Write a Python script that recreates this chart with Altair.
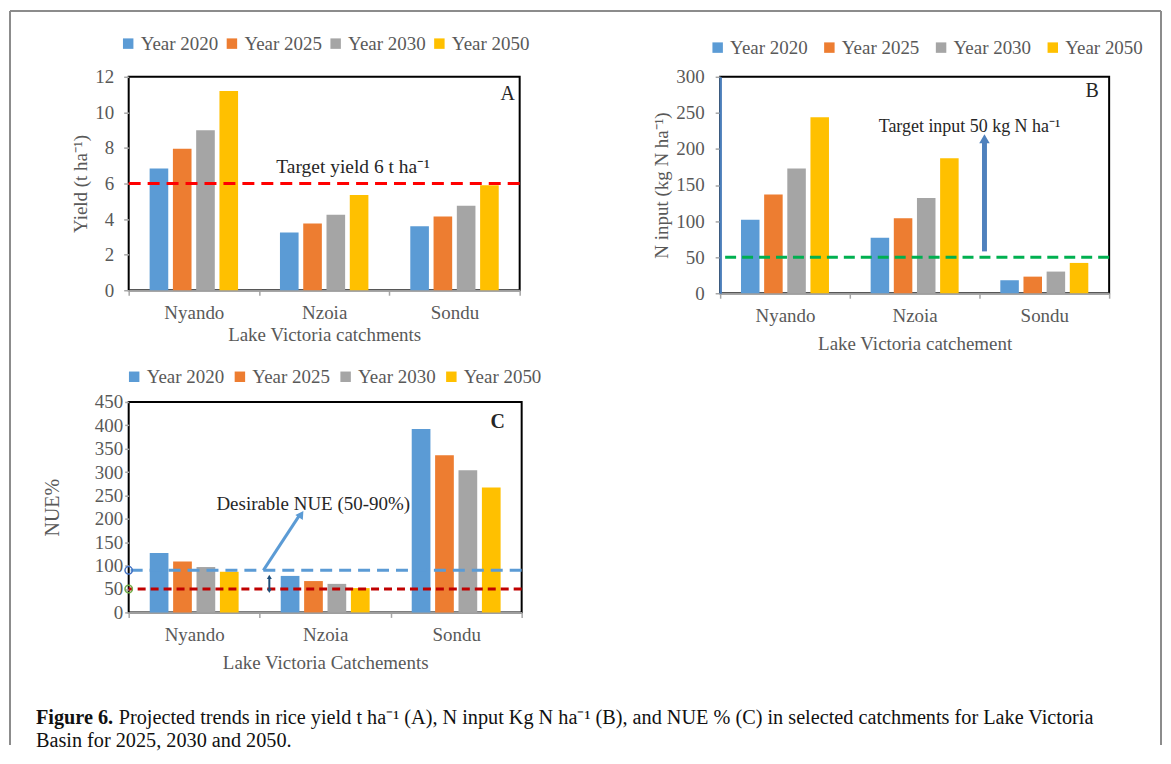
import altair as alt
import pandas as pd

# ---------------- data ----------------
catchments = ["Nyando", "Nzoia", "Sondu"]
years = ["Year 2020", "Year 2025", "Year 2030", "Year 2050"]
colors = ["#5b9bd5", "#ed7d31", "#a5a5a5", "#ffc000"]

yield_2020 = [6.85, 3.25, 3.60]
yield_2025 = [7.95, 3.75, 4.15]
yield_2030 = [9.00, 4.25, 4.75]
yield_2050 = [11.2, 5.35, 5.90]

ninput_2020 = [102, 77, 18]
ninput_2025 = [137, 104, 23]
ninput_2030 = [173, 132, 30]
ninput_2050 = [244, 187, 42]

nue_2020 = [127, 78, 392]
nue_2025 = [109, 67, 336]
nue_2030 = [97, 61, 304]
nue_2050 = [87, 52, 267]

target_yield = 6
target_input = 50
nue_low, nue_high = 50, 90

FONT = "Liberation Serif"
GREY = "#595959"


def long_df(series):
    rows = []
    for yr, vals in zip(years, series):
        for c, v in zip(catchments, vals):
            rows.append({"catchment": c, "year": yr, "value": v})
    return pd.DataFrame(rows)


def y_axis(ymax, ystep, ytitle, yt_size, ytick, ylabpad, ytitlepad,
           ydomain=False, ydomain_color="black"):
    return alt.Axis(title=ytitle, values=list(range(0, ymax + 1, ystep)),
                    labelOverlap=False, labelBound=False,
                    grid=False, tickSize=ytick, tickColor="#a6a6a6",
                    tickWidth=1.5, domain=ydomain,
                    domainColor=ydomain_color, domainWidth=2.5,
                    labelFont=FONT, labelFontSize=19, labelColor=GREY,
                    labelPadding=ylabpad, titleFont=FONT,
                    titleFontSize=yt_size, titleColor=GREY,
                    titleFontWeight="normal", titlePadding=ytitlepad)


def bars(df, ymax, yax, xtitle, legx, legy, colpad, xtitlepad=9):
    return alt.Chart(df).mark_bar().encode(
        x=alt.X("catchment:N", sort=catchments,
                scale=alt.Scale(paddingInner=0, paddingOuter=0),
                axis=alt.Axis(title=xtitle, labelAngle=0, tickBand="extent",
                              tickSize=5, tickColor="#a6a6a6", tickWidth=1.5,
                              domainColor="#9e9e9e", domainWidth=2,
                              labelFont=FONT, labelFontSize=19, labelColor=GREY,
                              labelPadding=8, titleFont=FONT, titleFontSize=19,
                              titleColor=GREY, titleFontWeight="normal",
                              titlePadding=xtitlepad)),
        xOffset=alt.XOffset("year:N", sort=years,
                            scale=alt.Scale(paddingInner=0.2, paddingOuter=0.9)),
        y=alt.Y("value:Q", scale=alt.Scale(domain=[0, ymax], nice=False), axis=yax),
        color=alt.Color("year:N", sort=years,
                        scale=alt.Scale(domain=years, range=colors),
                        legend=alt.Legend(title=None, orient="none",
                                          direction="horizontal",
                                          legendX=legx, legendY=legy,
                                          symbolType="square", symbolSize=110,
                                          symbolStrokeWidth=0,
                                          labelFont=FONT, labelFontSize=19,
                                          labelColor=GREY, labelOffset=3,
                                          columnPadding=colpad)),
    )


def text_at(txt, x, yval, yax, size=19, weight="normal", color="#262626"):
    return alt.Chart(pd.DataFrame({"t": [txt]})).mark_text(
        font=FONT, fontSize=size, fontWeight=weight, color=color,
        align="center", baseline="middle").encode(
        text="t:N", x=alt.value(x), y=alt.Y(datum=yval, axis=yax))


def hline(val, yax, color, dash, width=3):
    return alt.Chart(pd.DataFrame({"v": [val]})).mark_rule(
        color=color, strokeWidth=width, strokeDash=dash).encode(
        y=alt.Y("v:Q", axis=yax))


def one():
    return alt.Chart(pd.DataFrame({"k": [0]}))


# ---------------- panel A ----------------
WA, HA = 392, 214
axA = y_axis(12, 2, "Yield (t ha⁻¹)", 19, 5, 10, 4)
dfA = long_df([yield_2020, yield_2025, yield_2030, yield_2050])
barsA = bars(dfA, 12, axA, "Lake Victoria catchments", -10, -43, 4, xtitlepad=3)
lineA = hline(target_yield, axA, "#ff0000", [12, 7])
txtA = text_at("Target yield 6 t ha⁻¹", 225, 6.95, axA, size=19.5)
letA = text_at("A", 380, 11.05, axA, size=20)
frame_left = one().mark_rule(color="#8c8c8c", strokeWidth=2).encode(
    x=alt.value(-119), y=alt.value(-66), y2=alt.value(670))
frame_top = one().mark_rule(color="#8c8c8c", strokeWidth=2).encode(
    x=alt.value(-119), x2=alt.value(1035), y=alt.value(-66))
panelA = alt.layer(barsA, lineA, txtA, letA, frame_left, frame_top).properties(
    width=WA, height=HA)

# ---------------- panel B ----------------
WB, HB = 390, 217
axB = y_axis(300, 50, "N input (kg N ha⁻¹)", 19, 5, 11, 4,
             ydomain=True, ydomain_color="#4a7ebb")
dfB = long_df([ninput_2020, ninput_2025, ninput_2030, ninput_2050])
barsB = bars(dfB, 300, axB, "Lake Victoria catchement", -12, -39, 12)
lineB = hline(target_input, axB, "#00b050", [11, 6])
txtB = text_at("Target input 50 kg N ha⁻¹", 250, 231, axB, size=18)
letB = text_at("B", 373, 280, axB, size=20)
arrowB = one().mark_rule(color="#4f81bd", strokeWidth=5).encode(
    x=alt.value(265), y=alt.Y(datum=58, axis=axB), y2=alt.datum(211))
headB = one().mark_point(
    shape="triangle-up", filled=True, size=110, color="#4f81bd", opacity=1).encode(
    x=alt.value(265), y=alt.Y(datum=214, axis=axB))
frame_right = one().mark_rule(color="#8c8c8c", strokeWidth=2).encode(
    x=alt.value(442), y=alt.value(-66), y2=alt.value(670))
panelB = alt.layer(barsB, lineB, txtB, letB, arrowB, headB, frame_right).properties(
    width=WB, height=HB)

# ---------------- panel C ----------------
WC, HC = 394, 211
axC = y_axis(450, 50, "NUE%", 20, 4, 2, 32)
dfC = long_df([nue_2020, nue_2025, nue_2030, nue_2050])
barsC = bars(dfC, 450, axC, "Lake Victoria Catchements", -4, -35, 6)
lineC1 = hline(nue_high, axC, "#5b9bd5", [12, 7])
lineC2 = hline(nue_low, axC, "#c00000", [8, 5])
txtC = text_at("Desirable NUE (50-90%)", 185, 232, axC)
letC = text_at("C", 370, 408, axC, size=20, weight="bold")
arrowC = one().mark_rule(color="#5b9bd5", strokeWidth=3).encode(
    x=alt.value(135), x2=alt.value(171),
    y=alt.Y(datum=90, axis=axC), y2=alt.datum(207))
headC = one().mark_point(
    shape="triangle-up", filled=True, size=80, angle=34, color="#5b9bd5",
    opacity=1).encode(x=alt.value(173), y=alt.Y(datum=210, axis=axC))
dblC = one().mark_rule(color="#1f4e79", strokeWidth=2).encode(
    x=alt.value(141), y=alt.Y(datum=47, axis=axC), y2=alt.datum(75))
dblC_up = one().mark_point(
    shape="triangle-up", filled=True, size=25, color="#1f4e79", opacity=1).encode(
    x=alt.value(141), y=alt.Y(datum=76, axis=axC))
dblC_dn = one().mark_point(
    shape="triangle-down", filled=True, size=25, color="#1f4e79", opacity=1).encode(
    x=alt.value(141), y=alt.Y(datum=46, axis=axC))
circC = alt.Chart(pd.DataFrame({"v": [nue_high, nue_low],
                                "c": ["#4472c4", "#70ad47"]})).mark_point(
    shape="circle", filled=False, size=55, strokeWidth=1.5, opacity=1).encode(
    x=alt.value(0), y=alt.Y("v:Q", axis=axC),
    color=alt.Color("c:N", scale=None, legend=None))
CAP = 20.3
cap1 = alt.Chart(pd.DataFrame({"t": ["Figure 6."]})).mark_text(
    font=FONT, fontSize=CAP, fontWeight="bold", color="#111111", align="left",
    baseline="middle").encode(text="t:N", x=alt.value(-93), y=alt.value(317))
cap2 = alt.Chart(pd.DataFrame({"t": [
    "Projected trends in rice yield t ha⁻¹ (A), N input Kg N ha⁻¹ (B), and NUE % (C) "
    "in selected catchments for Lake Victoria"]})).mark_text(
    font=FONT, fontSize=CAP, color="#111111", align="left",
    baseline="middle").encode(text="t:N", x=alt.value(-10), y=alt.value(317))
cap3 = alt.Chart(pd.DataFrame({"t": ["Basin for 2025, 2030 and 2050."]})).mark_text(
    font=FONT, fontSize=CAP, color="#111111", align="left",
    baseline="middle").encode(text="t:N", x=alt.value(-93), y=alt.value(340))
panelC = alt.layer(barsC, lineC1, lineC2, txtC, letC, arrowC, headC, dblC,
                   dblC_up, dblC_dn, circC, cap1, cap2, cap3).properties(
    width=WC, height=HC)

chart = alt.concat(
    panelA, panelB, panelC, columns=2, bounds="flush",
    spacing={"row": 109, "column": 199},
).resolve_scale(
    x="independent", y="independent", color="independent", xOffset="independent"
).resolve_legend(color="independent").properties(
    padding=0, background="white"
).configure_view(stroke="black", strokeWidth=2).configure_axis(labelOverlap=False)

chart.save("out.html", embed_options={"renderer": "svg", "actions": False})
